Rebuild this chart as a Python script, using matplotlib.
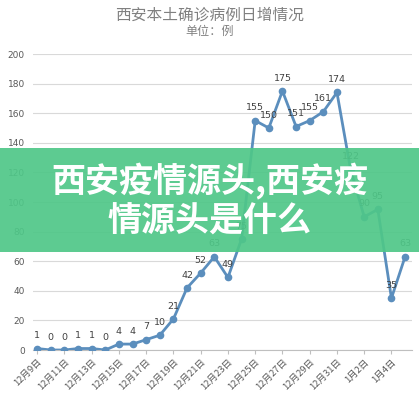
import matplotlib
matplotlib.use("Agg")
import matplotlib.pyplot as plt
from matplotlib.patches import Rectangle

plt.rcParams['font.family'] = ['Noto Sans CJK SC', 'DejaVu Sans']

dates = ["12月9日", "12月10日", "12月11日", "12月12日", "12月13日", "12月14日",
         "12月15日", "12月16日", "12月17日", "12月18日", "12月19日", "12月20日",
         "12月21日", "12月22日", "12月23日", "12月24日", "12月25日", "12月26日",
         "12月27日", "12月28日", "12月29日", "12月30日", "12月31日", "1月1日",
         "1月2日", "1月3日", "1月4日", "1月5日"]
cases = [1, 0, 0, 1, 1, 0, 4, 4, 7, 10, 21, 42, 52, 63, 49, 75, 155, 150,
         175, 151, 155, 161, 174, 122, 90, 95, 35, 63]
y_ticks = [0, 20, 40, 60, 80, 100, 120, 140, 160, 180, 200]

title = "西安本土确诊病例日增情况"
subtitle = "单位：例"
banner_lines = ["西安疫情源头,西安疫", "情源头是什么"]

fig = plt.figure(figsize=(4.19, 4.0), dpi=100)
ax = fig.add_axes([0.079, 0.125, 0.904, 0.74])

x = list(range(len(cases)))
ax.plot(x, cases, color='#5b8ebd', lw=2.0, marker='o', ms=4.5, zorder=3)
for xi, v in zip(x, cases):
    ax.annotate(str(v), (xi, v), xytext=(0, 6), textcoords='offset points',
                ha='center', va='bottom', fontsize=6.8, color='#404040',
                family=['DejaVu Sans'])

ax.set_xlim(-0.3, 27.5)
ax.set_ylim(0, 200)
ax.set_yticks(y_ticks)
ax.set_yticklabels([str(t) for t in y_ticks], fontsize=6.5, color='#595959',
                   family=['DejaVu Sans'])
ax.yaxis.grid(True, color='#d9d9d9', lw=0.8)
ax.set_axisbelow(True)
ax.tick_params(axis='y', length=0, pad=6)

ax.set_xticks(x[::2])
ax.set_xticklabels(dates[::2], rotation=45, ha='right', rotation_mode='anchor',
                   fontsize=6.8, color='#595959')
ax.tick_params(axis='x', length=3, color='#bfbfbf', pad=2)

for s in ['top', 'right', 'left']:
    ax.spines[s].set_visible(False)
ax.spines['bottom'].set_color('#bfbfbf')

fig.text(0.5, 0.962, title, ha='center', va='center', fontsize=11.3, color='#808080')
fig.text(0.5, 0.922, subtitle, ha='center', va='center', fontsize=8.7, color='#808080')

fig.patches.append(Rectangle((0, 0.37), 1, 0.26, transform=fig.transFigure,
                             facecolor='#4fc788', alpha=0.92, edgecolor='none',
                             zorder=5, figure=fig))
fig.text(0.5, 0.5475, banner_lines[0], ha='center', va='center', fontsize=24.5,
         color='white', fontweight='heavy', zorder=6)
fig.text(0.5, 0.4475, banner_lines[1], ha='center', va='center', fontsize=24.5,
         color='white', fontweight='heavy', zorder=6)

fig.savefig("out.png", dpi=100)
